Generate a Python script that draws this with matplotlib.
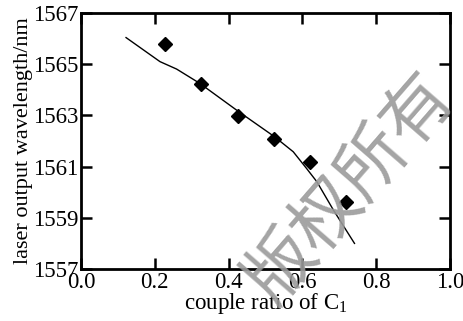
import numpy as np
import matplotlib
matplotlib.use("Agg")
import matplotlib.pyplot as plt

plt.rcParams['font.family'] = ['Liberation Serif', 'DejaVu Serif']
plt.rcParams['mathtext.fontset'] = 'custom'
plt.rcParams['mathtext.rm'] = 'Liberation Serif'

# measured points
ratio_pts = [0.228, 0.325, 0.425, 0.524, 0.621, 0.718]
wl_pts = [1565.79, 1564.23, 1562.96, 1562.07, 1561.17, 1559.60]

# fitted curve
ratio_fit = [0.122, 0.214, 0.259, 0.322, 0.425, 0.524, 0.575, 0.611, 0.639, 0.684, 0.741]
wl_fit = [1566.04, 1565.10, 1564.81, 1564.25, 1563.17, 1562.17, 1561.58, 1560.93, 1560.41, 1559.30, 1558.00]

xticks = [0.0, 0.2, 0.4, 0.6, 0.8, 1.0]
yticks = [1557, 1559, 1561, 1563, 1565, 1567]

fig = plt.figure(figsize=(4.64, 3.21), dpi=100)
ax = fig.add_axes([0.1746, 0.162, 0.7954, 0.7975])

ax.plot(ratio_fit, wl_fit, 'k-', lw=1.0)
ax.plot(ratio_pts, wl_pts, 'kD', ms=7)

ax.set_xlim(0, 1)
ax.set_ylim(1557, 1567)
ax.set_xticks(xticks)
ax.set_yticks(yticks)
ax.set_xticklabels(["%.1f" % v for v in xticks])
ax.tick_params(direction='in', length=8, width=1.8, labelsize=16.5,
               top=True, right=True, pad=2)
for s in ax.spines.values():
    s.set_linewidth(2)

ax.set_xlabel("couple ratio of C$_\\mathrm{1}$", fontsize=16.5, labelpad=-1)
ax.set_ylabel("laser output wavelength/nm", fontsize=16, labelpad=0)

# watermark
fig.text(0.755, 0.415, "版权所有", family=['Noto Sans CJK SC'], fontsize=50,
         color='#9a9a9a', rotation=49, ha='center', va='center', alpha=0.9)

fig.savefig("out.png", dpi=100)
